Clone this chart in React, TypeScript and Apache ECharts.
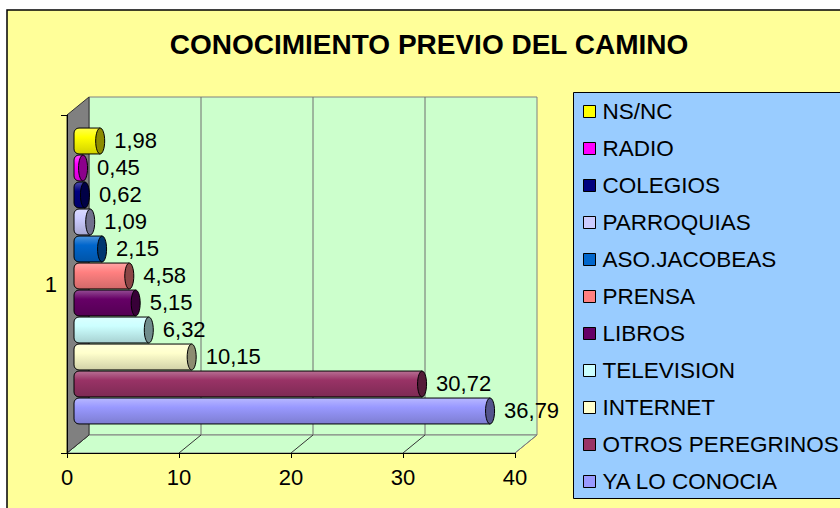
import React, { useEffect, useRef } from 'react';
import * as echarts from 'echarts';

const categories = [
  'NS/NC',
  'RADIO',
  'COLEGIOS',
  'PARROQUIAS',
  'ASO.JACOBEAS',
  'PRENSA',
  'LIBROS',
  'TELEVISION',
  'INTERNET',
  'OTROS PEREGRINOS',
  'YA LO CONOCIA',
];
const values = [1.98, 0.45, 0.62, 1.09, 2.15, 4.58, 5.15, 6.32, 10.15, 30.72, 36.79];
const colors = [
  '#FFFF00',
  '#FF00FF',
  '#000080',
  '#CCCCFF',
  '#0066CC',
  '#FF8080',
  '#660066',
  '#CCFFFF',
  '#FFFFCC',
  '#993366',
  '#9999FF',
];
const axisCategory = ['1'];
const xMin = 0;
const xMax = 40;
const xInterval = 10;
const titleText = 'CONOCIMIENTO PREVIO DEL CAMINO';

const FONT = '"Liberation Sans", Arial, sans-serif';

function mix(hex: string, target: string, t: number): string {
  const p = (h: string) => [
    parseInt(h.slice(1, 3), 16),
    parseInt(h.slice(3, 5), 16),
    parseInt(h.slice(5, 7), 16),
  ];
  const a = p(hex);
  const b = p(target);
  const c = a.map((v, i) => Math.round(v + (b[i] - v) * t));
  return `rgb(${c[0]},${c[1]},${c[2]})`;
}

const fmt = (v: number) => v.toFixed(2).replace('.', ',');

export default function App() {
  const ref = useRef<HTMLDivElement>(null);

  useEffect(() => {
    if (!ref.current) return;
    const chart = echarts.init(ref.current, undefined, { renderer: 'svg' });
    const DX = 22;
    const DY = -18;

    const wallSeries: any = {
      type: 'custom',
      name: '__walls',
      xAxisIndex: 0,
      yAxisIndex: 0,
      silent: true,
      z: 1,
      data: [[0, 0]],
      renderItem: (params: any, api: any) => {
        const c0 = api.coord([xMin, 0]);
        const c1 = api.coord([xMax, 0]);
        const bh = api.size([0, 1])[1];
        const x0 = c0[0];
        const x1 = c1[0];
        const top = c0[1] - bh / 2;
        const bottom = c0[1] + bh / 2;
        const children: any[] = [];
        // back wall
        children.push({
          type: 'polygon',
          shape: {
            points: [
              [x0 + DX, top + DY],
              [x1 + DX, top + DY],
              [x1 + DX, bottom + DY],
              [x0 + DX, bottom + DY],
            ],
          },
          style: { fill: '#CCFFCC', stroke: '#808080', lineWidth: 1 },
        });
        // floor
        children.push({
          type: 'polygon',
          shape: {
            points: [
              [x0, bottom],
              [x1, bottom],
              [x1 + DX, bottom + DY],
              [x0 + DX, bottom + DY],
            ],
          },
          style: { fill: '#CCFFCC', stroke: '#808080', lineWidth: 1 },
        });
        // gridlines and floor lines
        for (let v = xMin; v <= xMax; v += xInterval) {
          const x = api.coord([v, 0])[0];
          if (v > xMin && v < xMax) {
            children.push({
              type: 'line',
              shape: { x1: x + DX, y1: top + DY, x2: x + DX, y2: bottom + DY },
              style: { stroke: '#6E6E6E', lineWidth: 1 },
            });
          }
          children.push({
            type: 'line',
            shape: { x1: x, y1: bottom, x2: x + DX, y2: bottom + DY },
            style: { stroke: v === xMax ? '#808080' : '#333333', lineWidth: 1 },
          });
        }
        // left wall
        children.push({
          type: 'polygon',
          shape: {
            points: [
              [x0, top],
              [x0 + DX, top + DY],
              [x0 + DX, bottom + DY],
              [x0, bottom],
            ],
          },
          style: { fill: '#808080', stroke: '#333333', lineWidth: 1 },
        });
        return { type: 'group', children };
      },
    };

    const barSeries = categories.map((name, i) => ({
      type: 'custom',
      name,
      xAxisIndex: 1,
      yAxisIndex: 1,
      z: 3,
      itemStyle: { color: colors[i] },
      data: [[values[i], i]],
      encode: { x: 0, y: 1 },
      renderItem: (params: any, api: any) => {
        const v = api.value(0);
        const idx = api.value(1);
        const s = api.coord([0, idx]);
        const e = api.coord([v, idx]);
        const h = api.size([0, 1])[1] * 0.96;
        const yc = s[1];
        const x0 = s[0] - 4;
        const xe = e[0];
        const col = colors[i];
        const grad = new echarts.graphic.LinearGradient(0, 0, 0, 1, [
          { offset: 0, color: mix(col, '#FFFFFF', 0.3) },
          { offset: 0.35, color: col },
          { offset: 1, color: mix(col, '#000000', 0.18) },
        ]);
        return {
          type: 'group',
          children: [
            {
              type: 'rect',
              shape: { x: x0, y: yc - h / 2, width: Math.max(xe - x0, 1), height: h, r: [5, 0, 0, 5] },
              style: { fill: grad, stroke: '#000000', lineWidth: 1 },
            },
            {
              type: 'ellipse',
              shape: { cx: xe, cy: yc, rx: 4.5, ry: h / 2 },
              style: { fill: mix(col, '#000000', 0.45), stroke: '#000000', lineWidth: 1 },
            },
            {
              type: 'text',
              style: {
                x: xe + 14,
                y: yc - 1,
                text: fmt(v),
                fill: '#000000',
                font: `22px ${FONT}`,
                verticalAlign: 'middle',
                align: 'left',
              },
            },
          ],
        };
      },
    }));

    chart.setOption({
      animation: false,
      backgroundColor: '#FFFFFF',
      textStyle: { fontFamily: FONT },
      title: {
        text: titleText,
        left: 429,
        top: 30,
        textAlign: 'center',
        padding: 0,
        textStyle: { fontSize: 28, fontWeight: 'bold', color: '#000000', fontFamily: FONT },
      },
      graphic: [
        {
          type: 'rect',
          z: -10,
          silent: true,
          shape: { x: 7, y: 10, width: 900, height: 600 },
          style: { fill: '#FFFF99', stroke: '#000000', lineWidth: 1.5 },
        },
        {
          type: 'rect',
          z: 1,
          silent: true,
          shape: { x: 573.5, y: 92.5, width: 300, height: 406 },
          style: { fill: '#99CCFF', stroke: '#000000', lineWidth: 1 },
        },
      ],
      legend: {
        data: categories,
        orient: 'vertical',
        left: 583,
        top: 100,
        padding: 0,
        itemGap: 14,
        itemWidth: 12,
        itemHeight: 12,
        icon: 'rect',
        itemStyle: { borderColor: '#000000', borderWidth: 1 },
        textStyle: { fontSize: 22.5, lineHeight: 22, color: '#000000', fontFamily: FONT, padding: [0, 0, 0, 2] },
        selectedMode: false,
        z: 5,
      },
      grid: [
        { left: 67, top: 115, width: 448, height: 338 },
        { left: 78, top: 127.5, width: 448, height: 297 },
      ],
      xAxis: [
        {
          type: 'value',
          gridIndex: 0,
          min: xMin,
          max: xMax,
          interval: xInterval,
          z: 10,
          axisLine: { show: true, lineStyle: { color: '#000000', width: 1 } },
          axisTick: { show: true, length: 5, lineStyle: { color: '#000000' } },
          axisLabel: { fontSize: 22, color: '#000000', margin: 13, fontFamily: FONT },
          splitLine: { show: false },
        },
        {
          type: 'value',
          gridIndex: 1,
          min: xMin,
          max: xMax,
          show: false,
          splitLine: { show: false },
        },
      ],
      yAxis: [
        {
          type: 'category',
          gridIndex: 0,
          data: axisCategory,
          z: 10,
          axisLine: { show: true, lineStyle: { color: '#000000', width: 1 } },
          axisTick: { show: true, length: 6, lineStyle: { color: '#000000' } },
          axisLabel: { fontSize: 22, color: '#000000', margin: 10, fontFamily: FONT },
          splitLine: { show: false },
        },
        {
          type: 'category',
          gridIndex: 1,
          data: categories,
          inverse: true,
          show: false,
        },
      ],
      series: [wallSeries, ...barSeries],
    });

    return () => chart.dispose();
  }, []);

  return (
    <div
      ref={ref}
      style={{ position: 'fixed', left: 0, top: 0, width: 840, height: 508 }}
    />
  );
}
